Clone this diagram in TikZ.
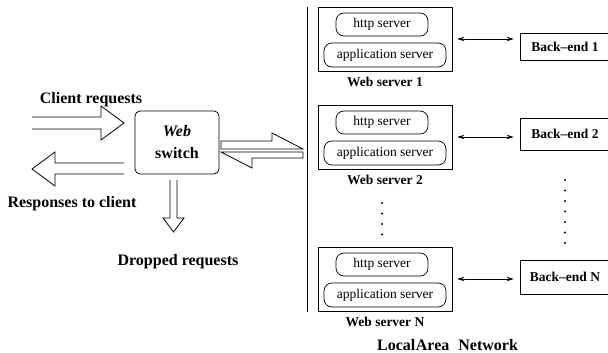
\documentclass[tikz,border=0pt]{standalone}
\usepackage{fontspec}
\setmainfont{Liberation Serif}
\usepackage{tikz}
\usetikzlibrary{positioning,arrows.meta,calc}

\newcommand{\bigfnt}{\fontsize{16}{18}\selectfont\bfseries}
\newcommand{\smallfnt}{\fontsize{13.5}{15}\selectfont}

\tikzset{
  box/.style={draw, line width=0.8pt, inner sep=0pt},
  wsbox/.style={box, minimum width=134pt, minimum height=64pt},
  bebox/.style={box, minimum width=96pt, font=\smallfnt\bfseries},
  srv/.style={draw, line width=0.7pt, rounded corners=8pt, inner sep=0pt,
    minimum height=23pt, font=\smallfnt},
  wslabel/.style={inner sep=0pt, font=\smallfnt\bfseries},
  biglabel/.style={inner sep=0pt, font=\bigfnt},
  hollow/.style={draw, line width=0.8pt, fill=white, line join=miter},
  link/.style={<->, line width=0.6pt, >={Stealth[length=7pt,width=4.5pt,inset=2.5pt]},
    shorten <=5pt, shorten >=6pt},
  dotcol/.style={line width=2.2pt, line cap=round, dash pattern=on 0pt off 10.5pt}
}

\begin{document}
\begin{tikzpicture}[x=1pt,y=-1pt]

        \useasboundingbox (0,0) rectangle (608,353);

        % The web switch
        \node[box, rounded corners=5pt, minimum width=84pt, minimum height=63pt,
              align=center, font=\fontsize{16}{22}\selectfont\bfseries]
              (switch) at (177,142.5) {\textit{Web}\\switch};

        % Incoming requests (open at the left)
        \draw[hollow] (32,117) -- (101,117) -- (101,106) -- (124,123)
                      -- (101,140) -- (101,129) -- (32,129);
        % Responses going back (open at the right)
        \draw[hollow] (124,163) -- (55,163) -- (55,152) -- (32,169)
                      -- (55,186) -- (55,174) -- (124,174);
        % Dropped requests (open at the top)
        \draw[hollow] (170,180) -- (170,218) -- (163,218) -- (173.5,232)
                      -- (184,218) -- (177,218) -- (177,180);

        % Two half arrows between switch and LAN
        \draw[hollow] (221,141) -- (272,141) -- (272,133) -- (303,149) -- (221,149) -- cycle;
        \draw[hollow] (221,152) -- (252,168) -- (252,158) -- (303,158) -- (303,152) -- cycle;

        % Labels on the left
        \node[biglabel] (clientlbl) at (91,100) {Client requests};
        \node[biglabel] (resplbl) at (72,204) {Responses to client};
        \node[biglabel] (droplbl) at (178,262) {Dropped requests};

        % The local area network
        \coordinate (lantop) at (307,7);
        \coordinate (lanbot) at (307,312);
        \draw[line width=0.8pt] (lantop) -- (lanbot);
        \node[biglabel, anchor=west] (lanlbl) at (377,345) {Local\hspace{0.5pt}Area\hspace{9pt}Network};

        % Web server 1
        \node[wsbox] (ws1) at (385,39) {};
        \node[srv, minimum width=92pt] (http1) at ($(ws1)+(-3,-14.5)$) {http server};
        \node[srv, minimum width=122pt, minimum height=24pt] (app1) at ($(ws1)+(0,16)$) {application server};
        \node[wslabel, below=6pt of ws1] (ws1lbl) {Web server 1};

        % Web server 2
        \node[wsbox] (ws2) at (385,137) {};
        \node[srv, minimum width=92pt] (http2) at ($(ws2)+(-3,-14.5)$) {http server};
        \node[srv, minimum width=122pt, minimum height=24pt] (app2) at ($(ws2)+(0,16)$) {application server};
        \node[wslabel, below=6pt of ws2] (ws2lbl) {Web server 2};

        % Web server N
        \node[wsbox] (wsn) at (385,279) {};
        \node[srv, minimum width=92pt] (httpn) at ($(wsn)+(-3,-14.5)$) {http server};
        \node[srv, minimum width=122pt, minimum height=24pt] (appn) at ($(wsn)+(0,16)$) {application server};
        \node[wslabel, below=6pt of wsn] (wsnlbl) {Web server N};

        % Back-ends (right side runs off the picture)
        \node[bebox, minimum height=27pt] (be1) at (568,46.5) {\hspace{-6pt}Back--end 1};
        \node[bebox, minimum height=32pt] (be2) at (568,134) {\hspace{-6pt}Back--end 2};
        \node[bebox, minimum height=34pt] (ben) at (568,277) {\hspace{-6pt}Back--end N};

        % Links web server <-> back-end
        \draw[link] (ws1.east) -- (ws1.east -| be1.west);
        \draw[link] (ws2.east) -- (ws2.east -| be2.west);
        \draw[link] (wsn.east) -- (wsn.east -| ben.west);

        % Dots for the servers in between
        \draw[dotcol] (382,203) -- (382,237);
        \draw[dotcol] (565,180) -- (565,244);

    \end{tikzpicture}
\end{document}
